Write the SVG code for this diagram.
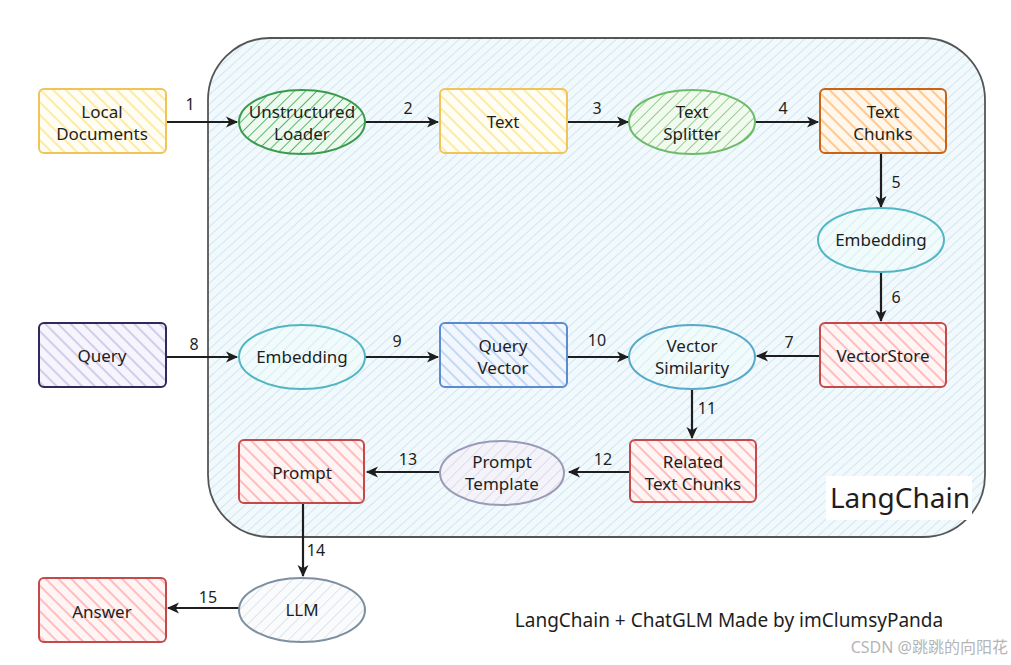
<svg xmlns="http://www.w3.org/2000/svg" width="1011" height="665" viewBox="0 0 1011 665">
<defs>
<style>
text{font-family:"Comic Sans MS","Noto Sans","DejaVu Sans",sans-serif;fill:#1e1e1e;text-anchor:middle}
.lbl{font-size:17px}
.num{font-size:16px}
.edge{stroke:#1e1e1e;stroke-width:2.2;fill:none;marker-end:url(#arr)}
</style>
<marker id="arr" viewBox="0 0 12 12" refX="10" refY="6" markerWidth="6" markerHeight="6" orient="auto" markerUnits="strokeWidth">
<path d="M0,1 L11,6 L0,11 L3,6 z" fill="#1e1e1e"/>
</marker>
<pattern id="pBg" width="7" height="7" patternUnits="userSpaceOnUse" patternTransform="rotate(48)"><rect width="7" height="7" fill="#f2f9fc"/><line x1="0" y1="0" x2="0" y2="7" stroke="#c8e3f0" stroke-width="1.6"/></pattern>
<pattern id="pY" width="9" height="9" patternUnits="userSpaceOnUse" patternTransform="rotate(-45)"><rect width="9" height="9" fill="#fffef5"/><line x1="0" y1="0" x2="0" y2="9" stroke="#ffe9a6" stroke-width="4"/></pattern>
<pattern id="pG1" width="8" height="8" patternUnits="userSpaceOnUse" patternTransform="rotate(45)"><rect width="8" height="8" fill="#eef9ef"/><line x1="0" y1="0" x2="0" y2="8" stroke="#55b96a" stroke-width="2"/></pattern>
<pattern id="pG2" width="8" height="8" patternUnits="userSpaceOnUse" patternTransform="rotate(45)"><rect width="8" height="8" fill="#f2faef"/><line x1="0" y1="0" x2="0" y2="8" stroke="#8fd18a" stroke-width="2"/></pattern>
<pattern id="pO" width="9" height="9" patternUnits="userSpaceOnUse" patternTransform="rotate(-45)"><rect width="9" height="9" fill="#fff6ec"/><line x1="0" y1="0" x2="0" y2="9" stroke="#ffc98f" stroke-width="4"/></pattern>
<pattern id="pT" width="8" height="8" patternUnits="userSpaceOnUse" patternTransform="rotate(45)"><rect width="8" height="8" fill="#f1fbfc"/><line x1="0" y1="0" x2="0" y2="8" stroke="#d3eff3" stroke-width="2"/></pattern>
<pattern id="pR" width="9" height="9" patternUnits="userSpaceOnUse" patternTransform="rotate(-45)"><rect width="9" height="9" fill="#fff5f5"/><line x1="0" y1="0" x2="0" y2="9" stroke="#ffbdbd" stroke-width="4"/></pattern>
<pattern id="pP" width="9" height="9" patternUnits="userSpaceOnUse" patternTransform="rotate(-45)"><rect width="9" height="9" fill="#f6f4fc"/><line x1="0" y1="0" x2="0" y2="9" stroke="#d3cdea" stroke-width="4"/></pattern>
<pattern id="pB" width="9" height="9" patternUnits="userSpaceOnUse" patternTransform="rotate(-45)"><rect width="9" height="9" fill="#f2f7fe"/><line x1="0" y1="0" x2="0" y2="9" stroke="#c3d8f6" stroke-width="4"/></pattern>
<pattern id="pV" width="8" height="8" patternUnits="userSpaceOnUse" patternTransform="rotate(45)"><rect width="8" height="8" fill="#f3f3f9"/><line x1="0" y1="0" x2="0" y2="8" stroke="#dcdcec" stroke-width="2"/></pattern>
<pattern id="pL" width="8" height="8" patternUnits="userSpaceOnUse" patternTransform="rotate(45)"><rect width="8" height="8" fill="#fafbfc"/><line x1="0" y1="0" x2="0" y2="8" stroke="#dfe4ea" stroke-width="2"/></pattern>
</defs>
<rect width="1011" height="665" fill="#ffffff"/>

<g id="langchain-container">
<rect x="208" y="38" width="777" height="499" rx="62" ry="62" fill="url(#pBg)" stroke="#555" stroke-width="1.8"/>
<rect x="826" y="476" width="146" height="44" fill="#ffffff"/>
<text x="900" y="508" style="font-size:28px">LangChain</text>
</g>

<g id="edges">
<line class="edge" x1="166" y1="122" x2="237" y2="122"/>
<line class="edge" x1="365" y1="122" x2="438" y2="122"/>
<line class="edge" x1="567" y1="122" x2="628" y2="122"/>
<line class="edge" x1="755" y1="122" x2="818" y2="122"/>
<line class="edge" x1="881" y1="153" x2="881" y2="207"/>
<line class="edge" x1="881" y1="272" x2="881" y2="321"/>
<line class="edge" x1="819" y1="356" x2="757" y2="356"/>
<line class="edge" x1="166" y1="357" x2="237" y2="357"/>
<line class="edge" x1="365" y1="357" x2="438" y2="357"/>
<line class="edge" x1="567" y1="357" x2="628" y2="357"/>
<line class="edge" x1="692" y1="388" x2="692" y2="438"/>
<line class="edge" x1="629" y1="472" x2="569" y2="472"/>
<line class="edge" x1="440" y1="472" x2="367" y2="472"/>
<line class="edge" x1="303" y1="503" x2="303" y2="576"/>
<line class="edge" x1="239" y1="608" x2="168" y2="608"/>
<text class="num" x="190" y="110">1</text>
<text class="num" x="408" y="114">2</text>
<text class="num" x="597" y="114">3</text>
<text class="num" x="783" y="114">4</text>
<text class="num" x="896" y="188">5</text>
<text class="num" x="896" y="303">6</text>
<text class="num" x="789" y="348">7</text>
<text class="num" x="194" y="350">8</text>
<text class="num" x="397" y="347">9</text>
<text class="num" x="597" y="346">10</text>
<text class="num" x="707" y="414">11</text>
<text class="num" x="603" y="465">12</text>
<text class="num" x="408" y="465">13</text>
<text class="num" x="316" y="556">14</text>
<text class="num" x="208" y="603">15</text>
</g>

<g id="local-documents">
<rect x="39" y="89" width="127" height="64" rx="5" fill="url(#pY)" stroke="#f0c45a" stroke-width="2"/>
<text class="lbl" x="102" y="118">Local</text>
<text class="lbl" x="102" y="140">Documents</text>
</g>
<g id="unstructured-loader">
<ellipse cx="302" cy="122" rx="63" ry="32" fill="url(#pG1)" stroke="#3a9a4e" stroke-width="2"/>
<text class="lbl" x="302" y="118">Unstructured</text>
<text class="lbl" x="302" y="140">Loader</text>
</g>
<g id="text">
<rect x="440" y="89" width="127" height="64" rx="5" fill="url(#pY)" stroke="#f0c45a" stroke-width="2"/>
<text class="lbl" x="503" y="128">Text</text>
</g>
<g id="text-splitter">
<ellipse cx="692" cy="122" rx="63" ry="32" fill="url(#pG2)" stroke="#6cbb6a" stroke-width="2"/>
<text class="lbl" x="692" y="118">Text</text>
<text class="lbl" x="692" y="140">Splitter</text>
</g>
<g id="text-chunks">
<rect x="820" y="89" width="126" height="64" rx="5" fill="url(#pO)" stroke="#c8641a" stroke-width="2"/>
<text class="lbl" x="883" y="118">Text</text>
<text class="lbl" x="883" y="140">Chunks</text>
</g>
<g id="embedding-docs">
<ellipse cx="881" cy="240" rx="63" ry="32" fill="url(#pT)" stroke="#52b6c2" stroke-width="2"/>
<text class="lbl" x="881" y="246">Embedding</text>
</g>
<g id="vectorstore">
<rect x="820" y="323" width="126" height="64" rx="5" fill="url(#pR)" stroke="#c24a4a" stroke-width="2"/>
<text class="lbl" x="883" y="362">VectorStore</text>
</g>
<g id="query">
<rect x="39" y="323" width="127" height="64" rx="5" fill="url(#pP)" stroke="#2f2a5a" stroke-width="2"/>
<text class="lbl" x="102" y="362">Query</text>
</g>
<g id="embedding-query">
<ellipse cx="302" cy="357" rx="63" ry="32" fill="url(#pT)" stroke="#52b6c2" stroke-width="2"/>
<text class="lbl" x="302" y="363">Embedding</text>
</g>
<g id="query-vector">
<rect x="440" y="323" width="127" height="64" rx="5" fill="url(#pB)" stroke="#5b8ad0" stroke-width="2"/>
<text class="lbl" x="503" y="352">Query</text>
<text class="lbl" x="503" y="374">Vector</text>
</g>
<g id="vector-similarity">
<ellipse cx="692" cy="357" rx="63" ry="32" fill="url(#pT)" stroke="#58a8c8" stroke-width="2"/>
<text class="lbl" x="692" y="352">Vector</text>
<text class="lbl" x="692" y="374">Similarity</text>
</g>
<g id="related-text-chunks">
<rect x="630" y="440" width="126" height="62" rx="5" fill="url(#pR)" stroke="#c24a4a" stroke-width="2"/>
<text class="lbl" x="693" y="468">Related</text>
<text class="lbl" x="693" y="490">Text Chunks</text>
</g>
<g id="prompt-template">
<ellipse cx="502" cy="473" rx="62" ry="32" fill="url(#pV)" stroke="#9a9ab8" stroke-width="2"/>
<text class="lbl" x="502" y="468">Prompt</text>
<text class="lbl" x="502" y="490">Template</text>
</g>
<g id="prompt">
<rect x="239" y="440" width="125" height="63" rx="5" fill="url(#pR)" stroke="#c24a4a" stroke-width="2"/>
<text class="lbl" x="302" y="479">Prompt</text>
</g>
<g id="llm">
<ellipse cx="302" cy="610" rx="63" ry="32" fill="url(#pL)" stroke="#7d8fa0" stroke-width="2"/>
<text class="lbl" x="302" y="616">LLM</text>
</g>
<g id="answer">
<rect x="39" y="578" width="127" height="64" rx="5" fill="url(#pR)" stroke="#c24a4a" stroke-width="2"/>
<text class="lbl" x="102" y="618">Answer</text>
</g>

<g id="credits">
<text x="729" y="627" style="font-size:19px">LangChain + ChatGLM Made by imClumsyPanda</text>
<text x="1008" y="653" style="font-size:16px;fill:#b5b5b5;text-anchor:end;font-family:'Noto Sans','Noto Sans CJK SC',sans-serif">CSDN @跳跳的向阳花</text>
</g>
</svg>
